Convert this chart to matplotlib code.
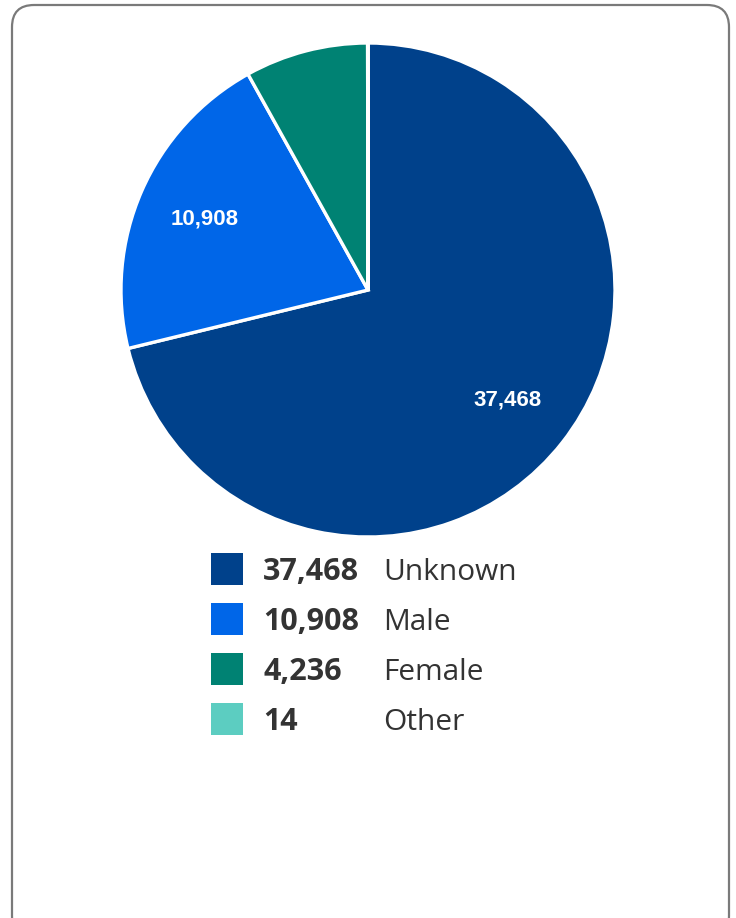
import matplotlib.pyplot as plt
from matplotlib.patches import FancyBboxPatch, Rectangle

# data
labels = ['Unknown', 'Male', 'Female', 'Other']
values = [37468, 10908, 4236, 14]
colors = ['#00418b', '#0066e8', '#008273', '#5ccdc1']

W, H = 736, 918
fig = plt.figure(figsize=(W / 100, H / 100), dpi=100)

# card border
card = FancyBboxPatch((12 / W, -20 / H), 717 / W, 933 / H,
                      boxstyle='round,pad=0,rounding_size=0.03',
                      transform=fig.transFigure, fc='white',
                      ec='#7a7a7a', lw=1.6, mutation_aspect=W / H, zorder=-10)
fig.patches.append(card)

# pie
ax = fig.add_axes([121 / W, 381 / H, 494 / W, 494 / H])
ax.set_zorder(5)
wedges, texts = ax.pie(values, colors=colors, startangle=90, counterclock=False,
                       labels=[f'{v:,}' if v / sum(values) > 0.1 else '' for v in values],
                       labeldistance=0.72,
                       wedgeprops=dict(edgecolor='white', linewidth=2.4))
for t in texts:
    t.set_color('white')
    t.set_fontsize(16)
    t.set_fontweight('bold')
    t.set_family(['Liberation Sans', 'DejaVu Sans'])
    t.set_ha('center')
    t.set_va('center')
ax.set_xlim(-1, 1)
ax.set_ylim(-1, 1)
ax.set_aspect('equal')

# legend
for i, (lab, val, col) in enumerate(zip(labels, values, colors)):
    yc = 569 + 50 * i
    fig.patches.append(Rectangle((211 / W, 1 - (yc + 16) / H), 32 / W, 32 / H,
                                 transform=fig.transFigure, fc=col, ec='none'))
    fig.text(263 / W, 1 - (yc + 11) / H, f'{val:,}', fontsize=22, fontweight='bold',
             family='Open Sans', color='#333333', va='baseline', ha='left')
    fig.text(383 / W, 1 - (yc + 11) / H, lab, fontsize=21.5, family='Open Sans',
             color='#333333', va='baseline', ha='left')

fig.savefig('out.png', dpi=100)
